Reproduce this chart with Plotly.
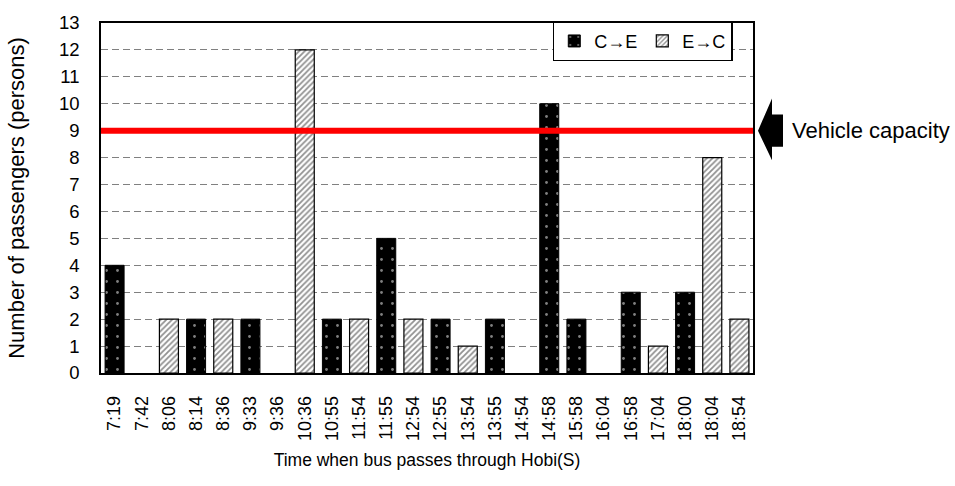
import plotly.graph_objects as go

times = ["7:19", "7:42", "8:06", "8:14", "8:36", "9:33", "9:36", "10:36", "10:55", "11:54",
         "11:55", "12:54", "12:55", "13:54", "13:55", "14:54", "14:58", "15:58", "16:04",
         "16:58", "17:04", "18:00", "18:04", "18:54"]
c_to_e = [4, None, None, 2, None, 2, None, None, 2, None,
          5, None, 2, None, 2, None, 10, 2, None,
          3, None, 3, None, None]
e_to_c = [None, None, 2, None, 2, None, None, 12, None, 2,
          None, 2, None, 1, None, None, None, None, None,
          None, 1, None, 8, 2]
capacity = 9
y_ticks = list(range(0, 14))

FONT = "Liberation Sans, Arial, sans-serif"

fig = go.Figure()
fig.add_trace(go.Bar(
    x=times, y=c_to_e, name="C→E", width=0.7,
    marker=dict(color="black", line=dict(color="black", width=1),
                pattern=dict(shape=".", fgcolor="white", bgcolor="black", size=11, solidity=0.05)),
))
fig.add_trace(go.Bar(
    x=times, y=e_to_c, name="E→C", width=0.7,
    marker=dict(color="white", line=dict(color="black", width=1.2),
                pattern=dict(shape="/", fgcolor="#222222", bgcolor="white", size=4, solidity=0.45)),
))

# capacity line
fig.add_shape(type="line", xref="paper", yref="y", x0=0, x1=1, y0=capacity, y1=capacity,
              line=dict(color="#ff0000", width=6), layer="above")

# arrow pointing at capacity line
def px2paper(px):
    return (px - 101) / 652

path = (f"M {px2paper(758)},{capacity} "
        f"L {px2paper(772)},{capacity + 1.2} "
        f"L {px2paper(772)},{capacity + 0.6} "
        f"L {px2paper(783)},{capacity + 0.6} "
        f"L {px2paper(783)},{capacity - 0.6} "
        f"L {px2paper(772)},{capacity - 0.6} "
        f"L {px2paper(772)},{capacity - 1.1} Z")
fig.add_shape(type="path", xref="paper", yref="y", path=path,
              fillcolor="black", line=dict(color="black", width=0))
fig.add_annotation(xref="paper", yref="y", x=px2paper(790), y=capacity, xanchor="left",
                   text="Vehicle capacity", showarrow=False,
                   font=dict(family=FONT, size=22, color="black"))

fig.update_layout(
    width=955, height=486,
    margin=dict(l=101, r=202, t=18, b=113),
    paper_bgcolor="white", plot_bgcolor="white",
    barmode="overlay",
    font=dict(family=FONT, size=18, color="black"),
    showlegend=True,
    legend=dict(orientation="h", x=0.969, xanchor="right", y=1.005, yanchor="top",
                bordercolor="black", borderwidth=1.5, bgcolor="white",
                font=dict(family=FONT, size=18, color="black"),
                itemwidth=30, tracegroupgap=0),
    xaxis=dict(
        type="category", categoryorder="array", categoryarray=times,
        tickangle=-90, tickfont=dict(family=FONT, size=18, color="black"),
        showline=True, linecolor="black", linewidth=1.5, mirror=True,
        showgrid=False, ticks="", ticklabelstandoff=14,
        title=dict(text="Time when bus passes through Hobi(S)",
                   font=dict(family=FONT, size=17.5, color="black"), standoff=14),
    ),
    yaxis=dict(
        range=[0, 13], tickvals=y_ticks,
        tickfont=dict(family=FONT, size=18.5, color="black"),
        showline=True, linecolor="black", linewidth=1.5, mirror=True,
        showgrid=True, gridcolor="#808080", griddash="7px,4px", gridwidth=1,
        zeroline=False, ticks="", ticklabelstandoff=16,
        title=dict(text="Number of passengers (persons)",
                   font=dict(family=FONT, size=22, color="black"), standoff=28),
    ),
)

fig.write_html("out.html", config={"displayModeBar": False},
               post_script="document.body.style.margin='0';")
